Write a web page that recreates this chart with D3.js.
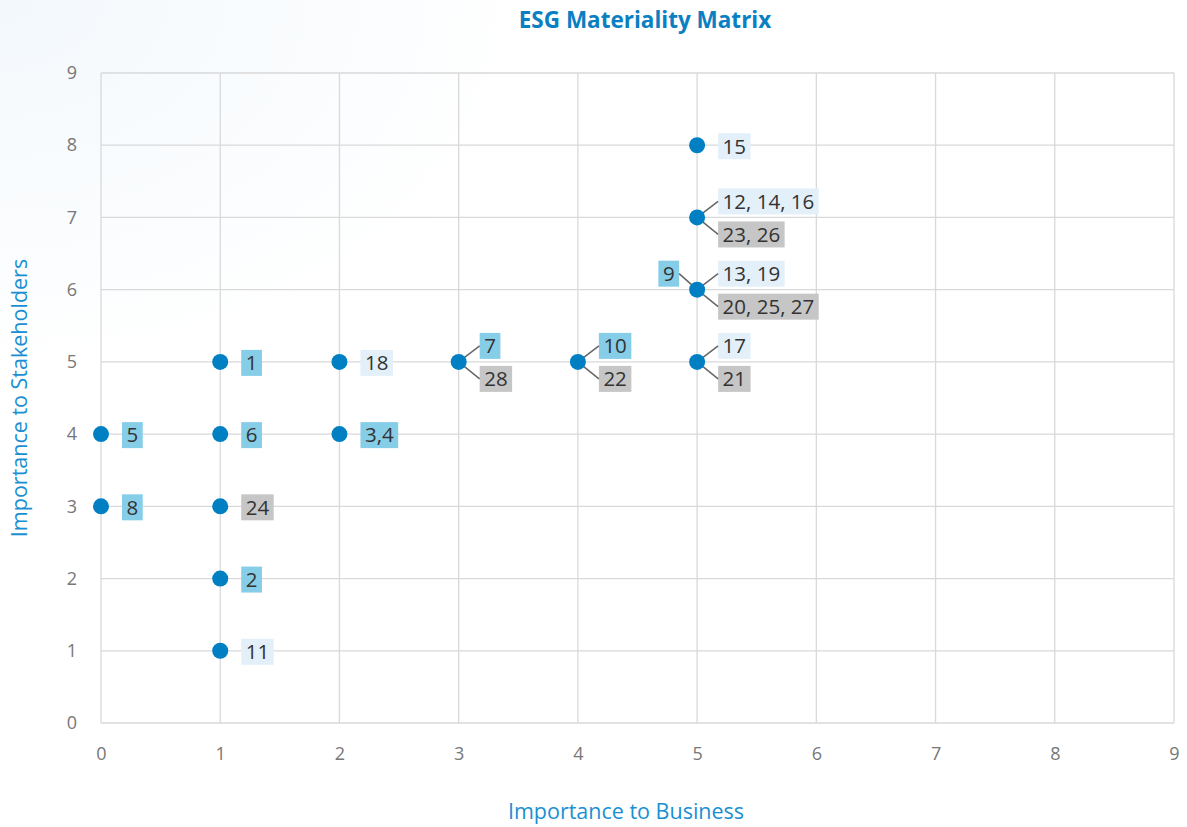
<!DOCTYPE html>
<html>
<head>
<meta charset="utf-8">
<script src="https://cdn.jsdelivr.net/npm/d3@7"></script>
<style>
  html, body { margin: 0; padding: 0; background: #fff; }
  svg { display: block; }
</style>
</head>
<body>
<svg id="chart" width="1187" height="827"></svg>
<script>
// ---- data ----
const pointX = [5, 5, 5, 5, 4, 3, 2, 2, 1, 1, 1, 1, 1, 0, 0];
const pointY = [8, 7, 6, 5, 5, 5, 5, 4, 5, 4, 3, 2, 1, 4, 3];

const labelText  = ["15", "12, 14, 16", "23, 26", "9", "13, 19", "20, 25, 27", "17", "21", "10", "22", "7", "28", "18", "3,4", "1", "6", "24", "2", "11", "5", "8"];
const labelX     = [5, 5, 5, 5, 5, 5, 5, 5, 4, 4, 3, 3, 2, 2, 1, 1, 1, 1, 1, 0, 0];
const labelY     = [8, 7, 7, 6, 6, 6, 5, 5, 5, 5, 5, 5, 5, 4, 5, 4, 3, 2, 1, 4, 3];
const labelGroup = ["light", "light", "gray", "mid", "light", "gray", "light", "gray", "mid", "gray", "mid", "gray", "light", "mid", "mid", "mid", "gray", "mid", "light", "mid", "mid"];
const labelPlace = ["right", "upper", "lower", "left", "upper", "lower", "upper", "lower", "upper", "lower", "upper", "lower", "right", "right", "right", "right", "right", "right", "right", "right", "right"];

const xTicks = [0, 1, 2, 3, 4, 5, 6, 7, 8, 9];
const yTicks = [0, 1, 2, 3, 4, 5, 6, 7, 8, 9];

const title = "ESG Materiality Matrix";
const xTitle = "Importance to Business";
const yTitle = "Importance to Stakeholders";

// ---- drawing ----
const svg = d3.select("#chart");
const font = "'Open Sans', 'Noto Sans', sans-serif";

// subtle background gradient
const defs = svg.append("defs");
const grad = defs.append("radialGradient").attr("id", "bg")
  .attr("cx", "0").attr("cy", "0").attr("r", "0.45");
grad.append("stop").attr("offset", "0").attr("stop-color", "#f3f8fc");
grad.append("stop").attr("offset", "1").attr("stop-color", "#ffffff");
svg.append("rect").attr("width", 1187).attr("height", 827).attr("fill", "url(#bg)");

const x = d3.scaleLinear().domain([0, 9]).range([101, 1174]);
const y = d3.scaleLinear().domain([0, 9]).range([723, 73]);

// grid
const grid = svg.append("g");
grid.selectAll("line.v").data(xTicks).join("line")
  .attr("x1", d => x(d)).attr("x2", d => x(d))
  .attr("y1", y(0)).attr("y2", y(9))
  .attr("stroke", "#d9d9d9").attr("stroke-width", 1.3);
grid.selectAll("line.h").data(yTicks).join("line")
  .attr("y1", d => y(d)).attr("y2", d => y(d))
  .attr("x1", x(0)).attr("x2", x(9))
  .attr("stroke", "#d9d9d9").attr("stroke-width", 1.3);

// axes (labels only)
const xAxis = svg.append("g").attr("transform", `translate(0,${y(0)})`)
  .call(d3.axisBottom(x).tickValues(xTicks).tickSize(0).tickPadding(24).tickFormat(d3.format("d")));
const yAxis = svg.append("g").attr("transform", `translate(${x(0)},0)`)
  .call(d3.axisLeft(y).tickValues(yTicks).tickSize(0).tickPadding(24).tickFormat(d3.format("d")));
[xAxis, yAxis].forEach(a => {
  a.select(".domain").remove();
  a.selectAll("text").attr("fill", "#777").style("font-size", "18px").style("font-family", font);
});

// titles
svg.append("text").attr("x", 645).attr("y", 28).attr("text-anchor", "middle")
  .attr("fill", "#0a80c2").style("font-size", "22.5px").style("font-weight", "bold")
  .style("font-family", font).text(title);
svg.append("text").attr("x", 626).attr("y", 819).attr("text-anchor", "middle")
  .attr("fill", "#1a90d2").style("font-size", "21.5px").style("font-family", font).text(xTitle);
svg.append("text").attr("transform", "translate(27,398) rotate(-90)").attr("text-anchor", "middle")
  .attr("fill", "#1a90d2").style("font-size", "21.5px").style("font-family", font).text(yTitle);

// labels
const fills = { light: "#e3f0f9", mid: "#86cde8", gray: "#c6c6c6" };
const labels = labelText.map((t, i) => ({ t, vx: labelX[i], vy: labelY[i], g: labelGroup[i], p: labelPlace[i] }));
const lg = svg.append("g");
labels.forEach(d => {
  const px = x(d.vx), py = y(d.vy);
  let cy = py + 1, anchorX = px + 21, leader = false;
  if (d.p === "upper") { cy = py - 16; leader = true; }
  if (d.p === "lower") { cy = py + 17; leader = true; }
  if (d.p === "left") { cy = py - 16; leader = true; anchorX = px - 18; }
  const g = lg.append("g");
  const rect = g.append("rect");
  const txt = g.append("text")
    .attr("y", cy).attr("dy", "0.36em")
    .attr("fill", "#333").style("font-size", "20.5px").style("font-family", font).text(d.t);
  const w = txt.node().getComputedTextLength() + 9;
  const left = d.p === "left" ? anchorX - w : anchorX;
  txt.attr("x", left + 4.5);
  rect.attr("x", left).attr("y", cy - 13).attr("width", w).attr("height", 26).attr("fill", fills[d.g]);
  if (leader) {
    svg.insert("line", "g.dots")
      .attr("x1", px).attr("y1", py).attr("x2", anchorX).attr("y2", cy)
      .attr("stroke", "#666").attr("stroke-width", 1.5);
  }
});

// points
const pts = pointX.map((v, i) => ({ vx: v, vy: pointY[i] }));
svg.append("g").attr("class", "dots").selectAll("circle").data(pts).join("circle")
  .attr("cx", d => x(d.vx)).attr("cy", d => y(d.vy)).attr("r", 8)
  .attr("fill", "#0080c3");
</script>
</body>
</html>
